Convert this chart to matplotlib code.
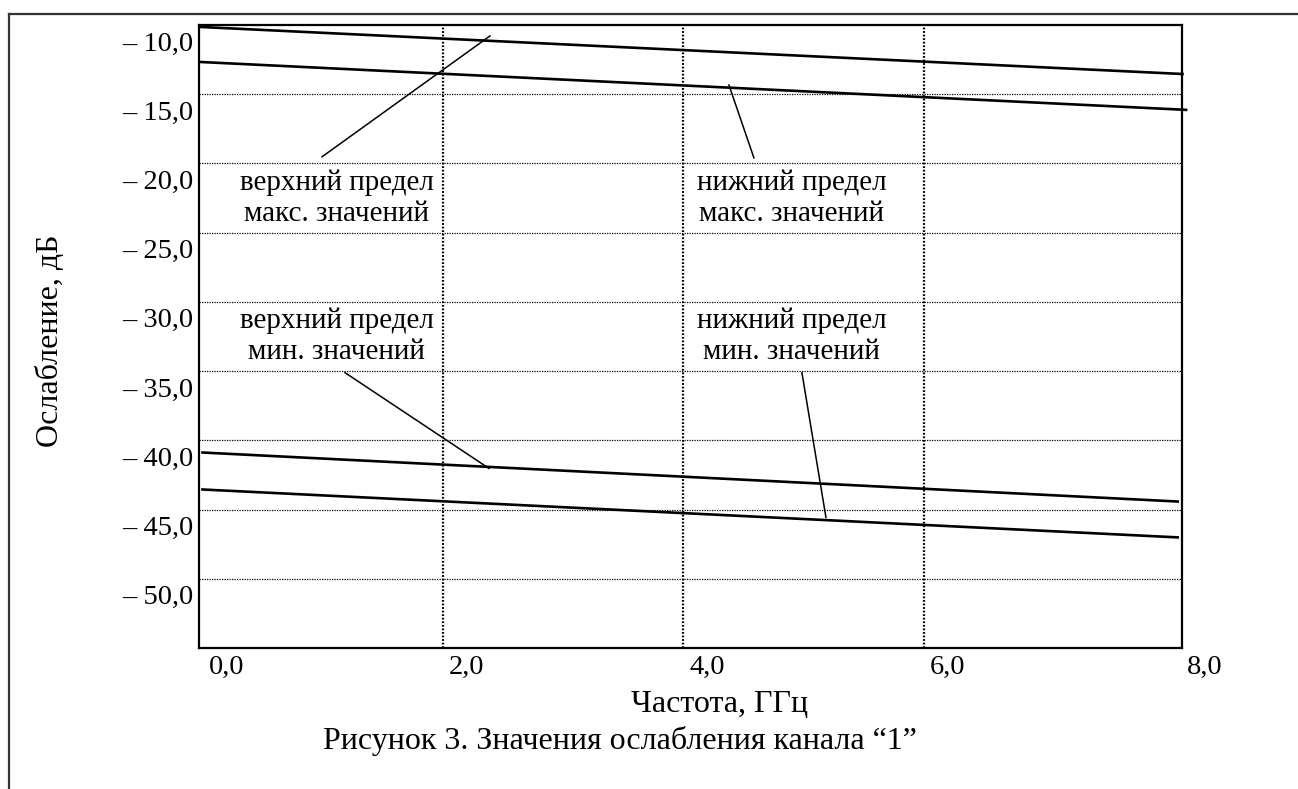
import matplotlib
matplotlib.use("Agg")
import matplotlib.pyplot as plt
import matplotlib.transforms as mtransforms
from matplotlib.lines import Line2D

plt.rcParams['font.family'] = ['Liberation Serif', 'DejaVu Serif']
FS_TICK = 20.5
FS_NOTE = 21
FS = 23

# data (GHz, dB)
freq_max_top = [-0.02, 8.15]
upper_max = [-10.14, -13.54]
freq_max_low = [-0.02, 8.18]
lower_max = [-12.67, -16.13]
freq_min = [0.0, 8.11]
upper_min = [-40.88, -44.42]
lower_min = [-43.55, -47.01]

x_ticks = [0, 2, 4, 6, 8]
x_labels = ["0,0", "2,0", "4,0", "6,0", "8,0"]
y_ticks = [-10, -15, -20, -25, -30, -35, -40, -45, -50]
y_labels = ["– 10,0", "– 15,0", "– 20,0", "– 25,0", "– 30,0",
            "– 35,0", "– 40,0", "– 45,0", "– 50,0"]
x_grid = [2, 4, 6]
y_grid = [-15, -20, -25, -30, -35, -40, -45, -50]

# callouts: text, text anchor, leader start, leader end
callouts = [
    ("верхний предел\nмакс. значений", (1.118, -22.55), (0.994, -19.52), (2.391, -10.79)),
    ("нижний предел\nмакс. значений", (4.90, -22.55), (4.586, -19.60), (4.378, -14.33)),
    ("верхний предел\nмин. значений", (1.118, -32.51), (1.185, -35.11), (2.383, -42.03)),
    ("нижний предел\nмин. значений", (4.90, -32.51), (4.985, -35.11), (5.185, -45.57)),
]

W, H = 1298, 789
fig = plt.figure(figsize=(W / 100, H / 100), dpi=100)
ax = fig.add_axes([199 / W, 1 - 648 / H, (1182 - 199) / W, (648 - 25) / H])
ax.set_xlim(-0.029, 8.146)
ax.set_ylim(-55, -10)

for x in x_grid:
    ax.axvline(x, color='black', lw=1.6, ls=(0, (0.8, 0.8)), zorder=1)
for y in y_grid:
    ax.axhline(y, color='black', lw=0.9, ls=(0, (1, 1)), zorder=1)

for xs, ys in [(freq_max_top, upper_max), (freq_max_low, lower_max),
               (freq_min, upper_min), (freq_min, lower_min)]:
    ax.plot(xs, ys, color='black', lw=1.9, clip_on=False, zorder=3)

for text, (tx, ty), p0, p1 in callouts:
    ax.text(tx, ty, text, ha='center', va='center', fontsize=FS_NOTE,
            multialignment='center', linespacing=1.25, zorder=4)
    ax.plot([p0[0], p1[0]], [p0[1], p1[1]], color='black', lw=1.1, zorder=3)

ax.set_xticks([])
ax.set_yticks([])
for s in ax.spines.values():
    s.set_linewidth(1.6)

ylab_off = mtransforms.ScaledTranslation(-6 / 100, -19 / 100, fig.dpi_scale_trans)
for y, lab in zip(y_ticks, y_labels):
    ax.text(0, y, lab, ha='right', va='center', fontsize=FS_TICK,
            transform=ax.get_yaxis_transform() + ylab_off)

for i, (x, lab) in enumerate(zip(x_ticks, x_labels)):
    dx = 24 if i < len(x_ticks) - 1 else 40
    off = mtransforms.ScaledTranslation(dx / 100, -7 / 100, fig.dpi_scale_trans)
    ax.text(x, 0, lab, ha='center', va='top', fontsize=FS_TICK,
            transform=ax.get_xaxis_transform() + off)

fig.text(720 / W, 1 - 705 / H, "Частота, ГГц", ha='center', va='center', fontsize=FS)
fig.text(620 / W, 1 - 741 / H, "Рисунок 3. Значения ослабления канала “1”",
         ha='center', va='center', fontsize=FS)
fig.text(51 / W, 1 - 341 / H, "Ослабление, дБ", ha='center', va='center',
         rotation=90, fontsize=FS)

# outer frame (left and top edges only)
fx, fy = 9 / W, 1 - 14 / H
fig.add_artist(Line2D([fx, fx], [0, fy], color='#333333', lw=1.6))
fig.add_artist(Line2D([fx, 1], [fy, fy], color='#333333', lw=1.6))

fig.savefig("out.png", dpi=100)
